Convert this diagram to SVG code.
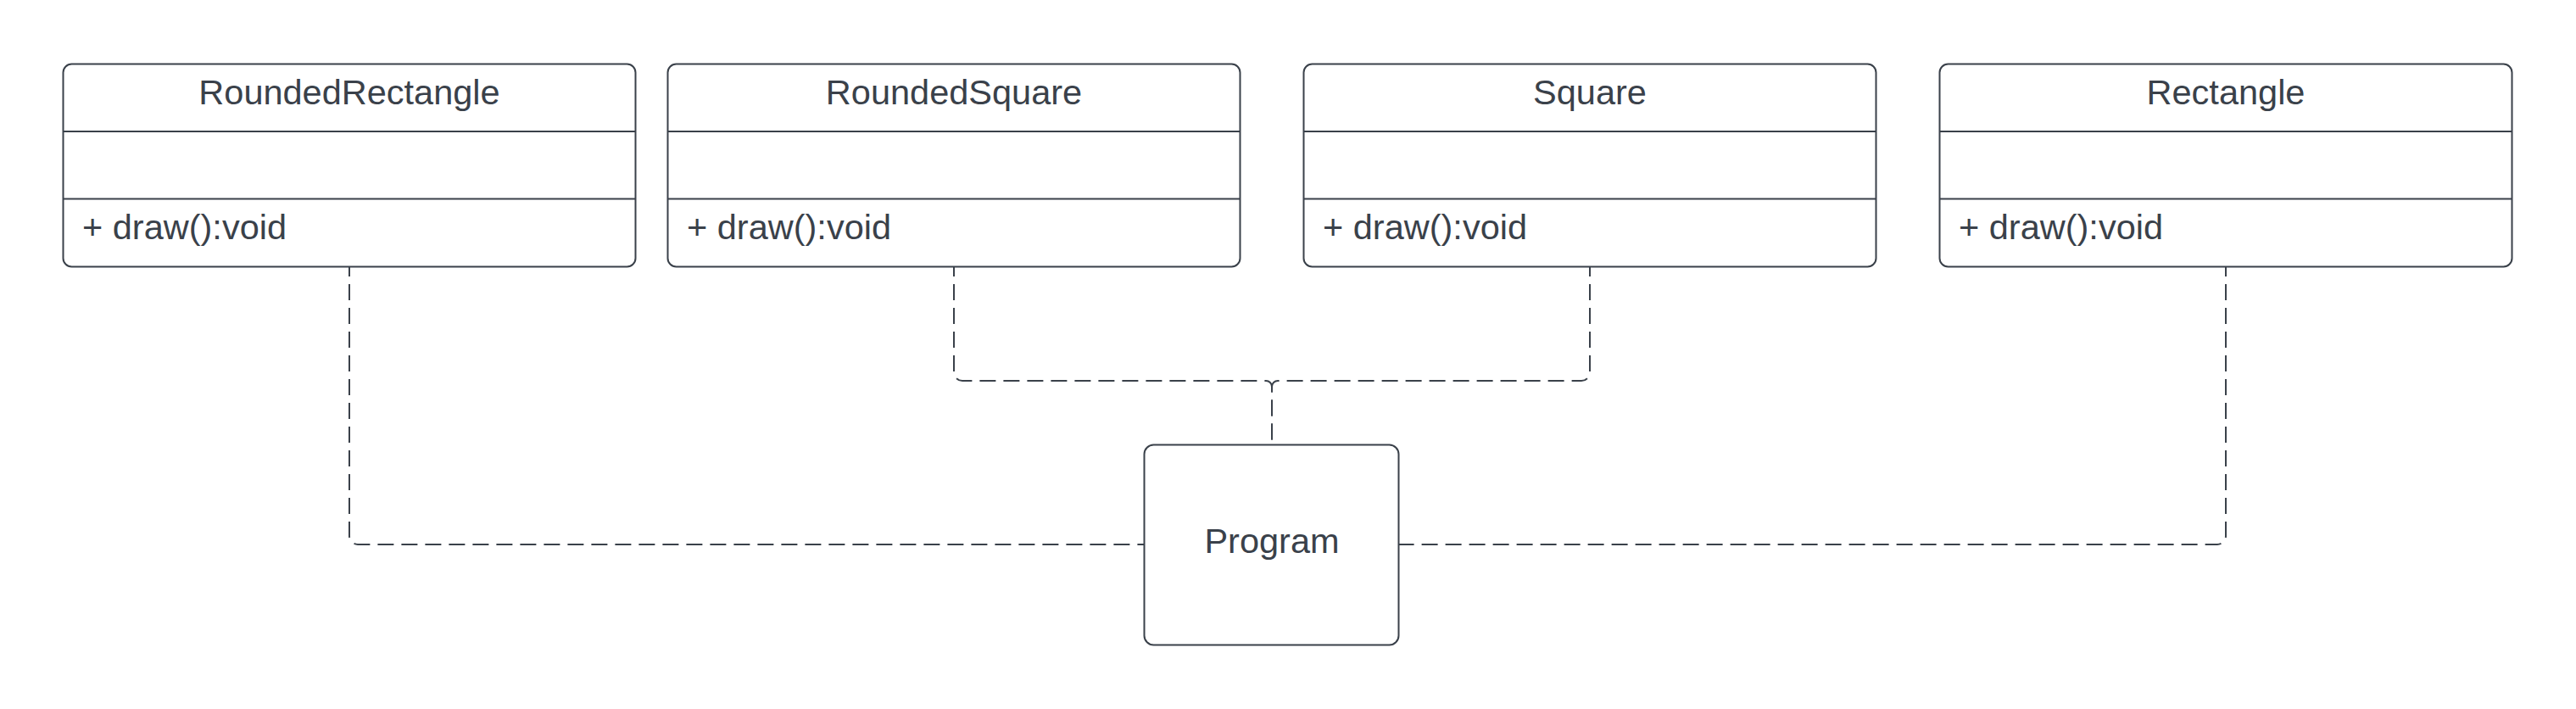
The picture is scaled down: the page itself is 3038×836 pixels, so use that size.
<svg xmlns="http://www.w3.org/2000/svg" width="3038" height="836" viewBox="0 0 3038 836">
<style>
.box{fill:#ffffff;stroke:#3a414a;stroke-width:2}
.div{stroke:#3a414a;stroke-width:2}
.t{font-family:"Liberation Sans",Arial,sans-serif;font-size:41.5px;fill:#3a414a}
.c{text-anchor:middle}
.conn{fill:none;stroke:#3a414a;stroke-width:2;stroke-dasharray:19 9;stroke-dashoffset:8}
</style>
<rect width="3038" height="836" fill="#ffffff"/>
<g id="connectors">
<path class="conn" d="M412,315 V632 A10,10 0 0 0 422,642 H1349"/>
<path class="conn" d="M1125,315 V439 A10,10 0 0 0 1135,449 H1493 A7,7 0 0 1 1500,456 V524"/>
<path class="conn" d="M1875,315 V439 A10,10 0 0 1 1865,449 H1507 A7,7 0 0 0 1500,456 V524"/>
<path class="conn" d="M2625,315 V632 A10,10 0 0 1 2615,642 H1650"/>
</g>
<g id="RoundedRectangle">
<rect class="box" x="74.5" y="75.5" width="675" height="239" rx="10"/>
<line class="div" x1="74.5" y1="155" x2="749.5" y2="155"/>
<line class="div" x1="74.5" y1="234.5" x2="749.5" y2="234.5"/>
<text class="t c" x="412" y="122.5">RoundedRectangle</text>
<text class="t" x="97" y="281.5">+ draw():void</text>
</g>
<g id="RoundedSquare">
<rect class="box" x="787.5" y="75.5" width="675" height="239" rx="10"/>
<line class="div" x1="787.5" y1="155" x2="1462.5" y2="155"/>
<line class="div" x1="787.5" y1="234.5" x2="1462.5" y2="234.5"/>
<text class="t c" x="1125" y="122.5">RoundedSquare</text>
<text class="t" x="810" y="281.5">+ draw():void</text>
</g>
<g id="Square">
<rect class="box" x="1537.5" y="75.5" width="675" height="239" rx="10"/>
<line class="div" x1="1537.5" y1="155" x2="2212.5" y2="155"/>
<line class="div" x1="1537.5" y1="234.5" x2="2212.5" y2="234.5"/>
<text class="t c" x="1875" y="122.5">Square</text>
<text class="t" x="1560" y="281.5">+ draw():void</text>
</g>
<g id="Rectangle">
<rect class="box" x="2287.5" y="75.5" width="675" height="239" rx="10"/>
<line class="div" x1="2287.5" y1="155" x2="2962.5" y2="155"/>
<line class="div" x1="2287.5" y1="234.5" x2="2962.5" y2="234.5"/>
<text class="t c" x="2625" y="122.5">Rectangle</text>
<text class="t" x="2310" y="281.5">+ draw():void</text>
</g>
<g id="Program">
<rect class="box" x="1349.5" y="524.5" width="300" height="236" rx="11"/>
<text class="t c" x="1500" y="651.5">Program</text>
</g>
</svg>
